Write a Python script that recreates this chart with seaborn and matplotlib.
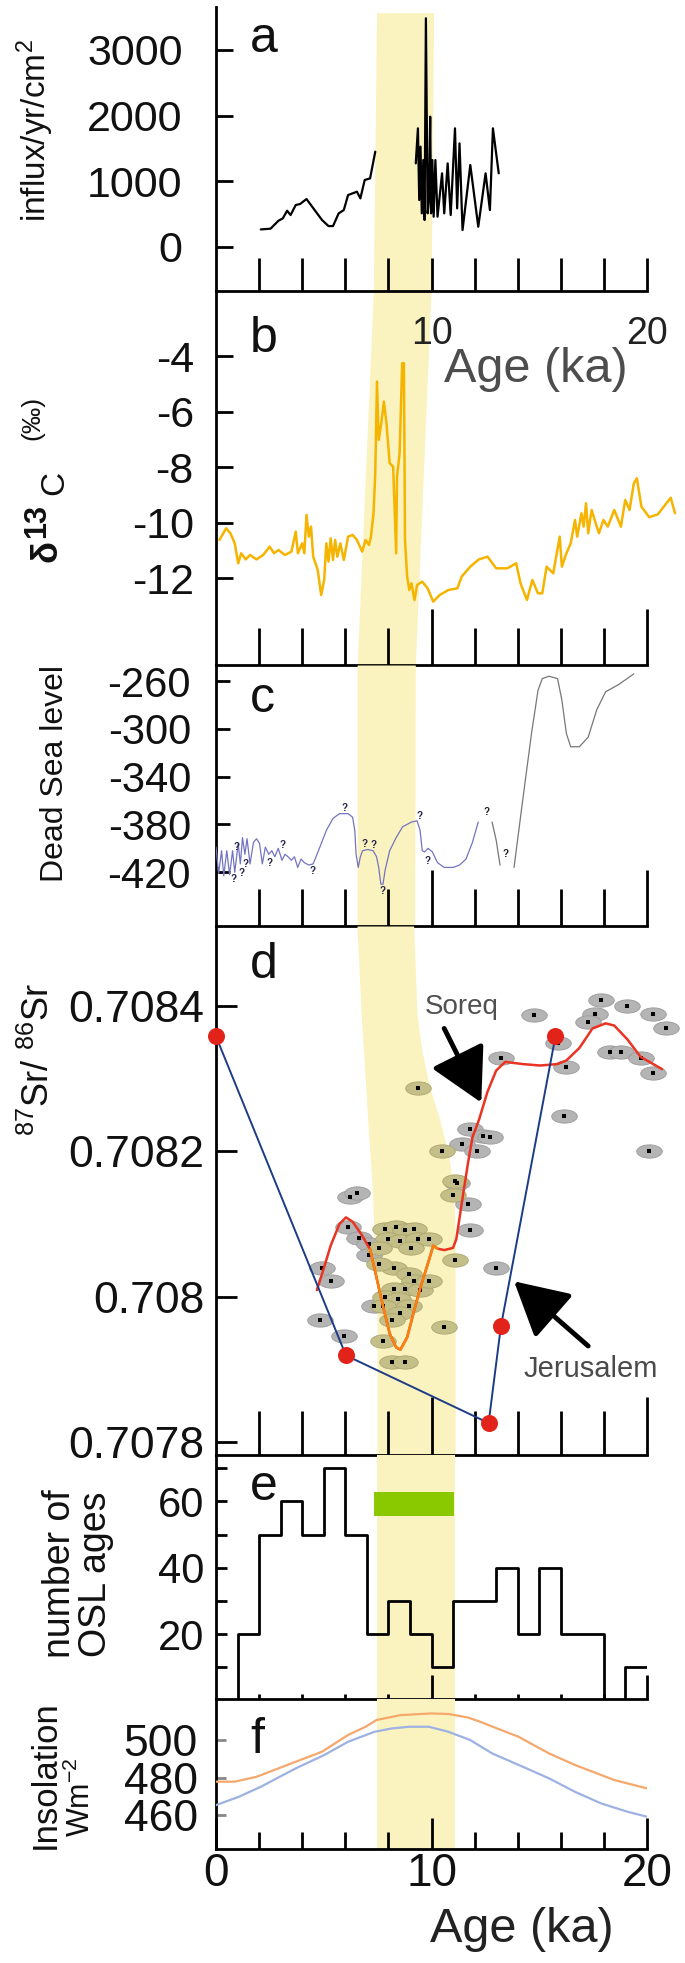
import numpy as np
import pandas as pd
import matplotlib
matplotlib.use("Agg")
import matplotlib.pyplot as plt
import matplotlib.transforms as mtransforms
from matplotlib.path import Path
import seaborn as sns

# ---------------- data ----------------
# panel a: influx
a1_age = [2.08, 2.53, 2.9, 3.1, 3.3, 3.46, 3.7, 3.9, 4.2, 4.92, 5.22, 5.43, 5.69, 5.93, 6.13, 6.54, 6.7, 6.9, 7.15, 7.39]
a1_val = [264, 275, 397, 432, 549, 483, 636, 651, 727, 407, 315, 315, 508, 559, 788, 839, 737, 1017, 1042, 1449]
a2_age = [9.27, 9.37, 9.43, 9.49, 9.55, 9.62, 9.68, 9.74, 9.82, 9.88, 9.94, 9.98, 10.04, 10.10, 10.18, 10.28,
          10.49, 10.59, 10.75, 10.89, 11.09, 11.19, 11.30, 11.44, 11.80, 12.17, 12.51, 12.71, 12.85, 13.12]
a2_val = [1271, 1805, 712, 1526, 509, 1322, 407, 3483, 509, 712, 1983, 509, 1322, 458, 1322, 458,
          1119, 509, 1271, 483, 1805, 585, 1576, 254, 1246, 305, 1119, 559, 1805, 1119]
a_yticks = [0, 1000, 2000, 3000]

# panel b: d13C
b_age = [0.16, 0.47, 0.67, 0.87, 1.03, 1.17, 1.38, 1.58, 1.88, 2.19, 2.49, 2.69, 2.9, 3.2, 3.5, 3.7, 3.8, 4.0,
         4.1, 4.2, 4.31, 4.41, 4.51, 4.72, 4.88, 5.02, 5.12, 5.22, 5.32, 5.43, 5.53, 5.63, 5.77, 5.93, 6.13,
         6.34, 6.54, 6.78, 6.94, 7.1, 7.19, 7.31, 7.39, 7.47, 7.55, 7.67, 7.79, 7.91, 8.06, 8.22, 8.36, 8.4,
         8.52, 8.64, 8.72, 8.77, 8.87, 8.97, 9.07, 9.21, 9.33, 9.57, 9.82, 10.08, 10.38, 10.79, 11.2, 11.4,
         11.8, 12.2, 12.6, 13.0, 13.52, 13.93, 14.13, 14.43, 14.68, 14.94, 15.14, 15.34, 15.65, 15.95, 16.05,
         16.26, 16.46, 16.66, 16.76, 16.96, 17.06, 17.17, 17.27, 17.43, 17.57, 17.77, 17.98, 18.18, 18.48,
         18.79, 18.99, 19.19, 19.39, 19.53, 19.74, 20.1, 20.5, 21.1, 21.3]
b_val = [-10.62, -10.2, -10.38, -10.74, -11.46, -11.1, -11.32, -11.16, -11.32, -11.16, -10.86, -11.1, -10.98,
         -11.16, -11.04, -10.32, -11.1, -10.74, -11.1, -9.72, -10.5, -10.14, -11.22, -11.7, -12.6, -12.06,
         -10.74, -11.4, -10.56, -11.34, -10.62, -11.22, -10.74, -11.34, -10.5, -10.44, -10.62, -11.04, -10.62,
         -10.8, -10.5, -9.66, -8.22, -4.92, -7.02, -6.42, -5.64, -6.42, -7.86, -7.98, -11.1, -8.34, -7.5,
         -4.26, -4.26, -10.62, -11.94, -12.42, -12.18, -12.78, -12.24, -12.12, -12.36, -12.84, -12.6, -12.42,
         -12.36, -11.94, -11.58, -11.32, -11.22, -11.64, -11.64, -11.46, -12.18, -12.78, -12.06, -12.54,
         -12.54, -11.58, -11.82, -10.5, -11.58, -11.1, -10.74, -9.9, -10.5, -9.66, -10.14, -9.3, -10.38,
         -9.54, -9.9, -10.38, -9.9, -10.14, -9.54, -10.14, -9.18, -9.54, -8.58, -8.4, -9.42, -9.8, -9.7,
         -9.1, -9.66]
b_yticks = [-12, -10, -8, -6, -4]

# panel c: Dead Sea level
c1_age = [0, 0.12, 0.26, 0.36, 0.5, 0.63, 0.77, 0.87, 1.03, 1.13, 1.23, 1.34, 1.44, 1.58, 1.74, 1.88, 2.02,
          2.15, 2.29, 2.45, 2.59, 2.73, 2.89, 3.06, 3.2, 3.34, 3.5, 3.64, 3.79, 3.95, 4.1, 4.31, 4.51, 4.82,
          5.12, 5.43, 5.73, 6.13, 6.34, 6.44, 6.5, 6.6, 6.7, 6.8, 7.04, 7.29, 7.45, 7.55, 7.65, 7.75, 7.85,
          8.06, 8.36, 8.66, 9.07, 9.33, 9.47, 9.57, 9.68, 9.84, 10.04, 10.28, 10.59, 11.0, 11.3, 11.6, 11.9,
          12.17]
c1_val = [-399, -421, -402, -423, -402, -422, -402, -420, -396, -413, -391, -405, -392, -413, -395, -392, -396,
          -413, -399, -405, -402, -407, -400, -410, -405, -407, -410, -407, -416, -409, -412, -414, -413, -399,
          -385, -375, -371, -371, -374, -385, -405, -416, -407, -402, -401, -402, -407, -416, -430, -430, -418,
          -402, -391, -382, -378, -377, -385, -402, -403, -400, -403, -412, -416, -416, -414, -409, -395, -378]
c2_age = [12.81, 13.0, 13.18]
c2_val = [-378, -393, -414]
c3_age = [13.83, 14.23, 14.64, 14.94, 15.14, 15.45, 15.85, 16.05, 16.26, 16.46, 16.86, 17.27, 17.67, 18.08,
          18.68, 19.39]
c3_val = [-416, -360, -304, -268, -258, -256, -258, -276, -304, -315, -315, -307, -284, -269, -263, -254]
q_age = [0.97, 0.83, 1.19, 1.38, 2.49, 3.1, 4.47, 5.97, 6.9, 7.31, 7.71, 9.43, 9.84, 12.55, 13.46]
q_val = [-399, -426, -421, -413, -412, -397, -419, -366, -396, -397, -436, -373, -411, -370, -405]
c_yticks = [-420, -380, -340, -300, -260]

# panel d: 87Sr/86Sr
jer_age = [0, 6.03, 12.65, 13.22, 15.75]
jer_val = [0.708358, 0.707919, 0.707826, 0.707959, 0.708358]
soreq_age = [4.68, 4.92, 5.32, 5.73, 6.03, 6.34, 6.74, 7.15, 7.45, 7.75, 8.06, 8.36, 8.56, 8.87, 9.17, 9.47,
             9.88, 10.08, 10.28, 10.59, 11.0, 11.15, 11.3, 11.5, 11.7, 11.9, 12.2, 12.6, 13.0, 13.42, 14.23,
             15.04, 15.85, 16.26, 16.86, 17.47, 18.08, 18.48, 19.09, 19.7, 20.7]
soreq_val = [0.708009, 0.708031, 0.70807, 0.7081, 0.708109, 0.708103, 0.708086, 0.708065, 0.708026, 0.707987,
             0.707949, 0.70793, 0.707927, 0.707944, 0.707978, 0.708011, 0.70805, 0.70807, 0.708066, 0.708064,
             0.708067, 0.708079, 0.708108, 0.708147, 0.708185, 0.708219, 0.708243, 0.708282, 0.708311,
             0.708323, 0.70832, 0.708318, 0.70832, 0.708325, 0.708342, 0.708369, 0.708376, 0.708373,
             0.708354, 0.70833, 0.708313]
soreq_mid_range = [7.15, 10.28]
grey_age = [14.74, 13.22, 17.87, 19.09, 20.3, 17.57, 17.27, 15.85, 18.28, 18.79, 19.7, 16.26, 20.3, 20.9, 16.15,
            20.1, 11.8, 12.4, 12.7, 11.4, 12.1, 11.2, 11.7, 11.8, 13.0, 6.23, 6.54, 6.13, 6.64, 7.1, 7.1, 4.92,
            5.32, 4.82, 5.93, 7.35]
grey_val = [0.708388, 0.708328, 0.708408, 0.7084, 0.708389, 0.708389, 0.708378, 0.708349, 0.708337, 0.708337,
            0.708328, 0.708316, 0.708308, 0.708369, 0.708248, 0.7082, 0.70823, 0.708221, 0.708219, 0.70821,
            0.7082, 0.708156, 0.708127, 0.708091, 0.70804, 0.708137, 0.708142, 0.708096, 0.708081, 0.708072,
            0.708057, 0.70804, 0.708021, 0.707968, 0.707946, 0.707987]
olive_age = [9.37, 10.49, 11.09, 10.99, 11.09, 10.59, 7.85, 8.36, 8.77, 9.17, 7.96, 8.56, 9.37, 9.88, 7.55, 9.07,
             8.26, 8.97, 9.17, 8.77, 8.26, 9.47, 7.85, 8.46, 7.75, 8.97, 8.56, 8.16, 7.75, 8.16, 8.77, 7.55, 9.88]
olive_val = [0.708287, 0.7082, 0.708159, 0.70814, 0.70805, 0.707958, 0.708093, 0.708096, 0.708091, 0.708093,
             0.708079, 0.708077, 0.708079, 0.708079, 0.708067, 0.708067, 0.70804, 0.708031, 0.708021, 0.708011,
             0.708011, 0.708009, 0.708, 0.707997, 0.707987, 0.707987, 0.707978, 0.707968, 0.707939, 0.70791,
             0.70791, 0.708045, 0.708021]
d_yticks = [0.7078, 0.708, 0.7082, 0.7084]
d_yticklabels = ["0.7078", "0.708", "0.7082", "0.7084"]

# panel e: OSL ages histogram (1 ka bins)
osl_bin_edges = list(range(0, 21))
osl_counts = [0, 20, 50, 60, 50, 70, 50, 20, 30, 20, 10, 30, 30, 40, 20, 40, 20, 20, 0, 10]
green_bar = {"start": 7.35, "end": 11.05, "low": 55.5, "high": 63.0}
e_yticks = [10, 20, 30, 40, 50, 60, 70]
e_yticklabels = ["", "20", "", "40", "", "60", ""]

# panel f: insolation
f_or_age = [0, 0.87, 1.88, 3.1, 4.92, 6.13, 6.94, 7.45, 8.56, 9.98, 10.79, 11.7, 12.2, 13.2, 14.03, 15.45, 16.66, 18.48, 20]
f_or_val = [477.8, 477.8, 480.4, 485.8, 493.8, 502.7, 507.1, 510.7, 513.3, 514.2, 513.9, 512, 510, 505.5, 501.8, 492.9, 486.7, 478.7, 474.2]
f_bl_age = [0, 1.07, 2.08, 3.7, 5.02, 6.13, 7.35, 8.16, 8.97, 9.88, 10.79, 11.8, 12.81, 14.23, 15.45, 16.66, 17.87, 19.09, 20]
f_bl_val = [465.3, 469.8, 475.1, 484.9, 492, 499.1, 504.4, 506.2, 507.1, 507.1, 504.4, 500, 492.9, 485.8, 479.6, 472.4, 466.2, 461.8, 459.1]
f_yticks = [460, 480, 500]

# shared x axis
x_minor = [2, 4, 6, 8, 12, 14, 16, 18]

# highlighted band (age edges, per panel, at axes-fraction heights)
band = {
    "a": ([0, 0.98], [7.3, 7.45], [9.98, 10.1]),
    "b": ([0, 1], [6.55, 7.3], [9.25, 9.98]),
    "c": ([0, 1], [6.55, 6.55], [9.22, 9.25]),
    "d": ([0, 0.304, 0.37, 0.436, 0.502, 0.568, 0.634, 0.7, 0.766, 0.832, 1.0],
          [7.47, 7.47, 7.39, 7.32, 7.25, 7.15, 7.04, 6.94, 6.84, 6.74, 6.54],
          [11.1, 11.1, 11.09, 11.09, 11.03, 10.79, 10.38, 9.88, 9.55, 9.33, 9.17]),
    "e": ([0, 1], [7.47, 7.47], [11.1, 11.1]),
    "f": ([0, 1], [7.47, 7.47], [11.1, 11.1]),
}

# ---------------- style ----------------
sns.set_theme(style="white")
plt.rcParams["font.family"] = ["Liberation Sans", "DejaVu Sans"]
plt.rcParams["mathtext.fontset"] = "custom"
plt.rcParams["mathtext.rm"] = "Liberation Sans"
plt.rcParams["mathtext.it"] = "Liberation Sans:italic"
plt.rcParams["mathtext.bf"] = "Liberation Sans:bold"
plt.rcParams["axes.linewidth"] = 2.0
plt.rcParams["axes.edgecolor"] = "black"

W, H = 685, 1963
fig = plt.figure(figsize=(W / 100, H / 100), dpi=100)
fig.patch.set_facecolor("white")
X0, X1 = 216, 647
BAND_COLOR = "#fbf3bf"


def add_ax(top, bottom):
    ax = fig.add_axes([X0 / W, 1 - bottom / H, (X1 - X0) / W, (bottom - top) / H])
    ax.set_facecolor("none")
    for s in ["top", "right"]:
        ax.spines[s].set_visible(False)
    for s in ["left", "bottom"]:
        ax.spines[s].set_linewidth(2.0)
        ax.spines[s].set_color("black")
    return ax


def draw_band(ax, key):
    yf, lft, rgt = band[key]
    tr = mtransforms.blended_transform_factory(ax.transData, ax.transAxes)
    ax.fill_betweenx(yf, lft, rgt, transform=tr, color=BAND_COLOR, lw=0, zorder=0)


def xticks(ax, major, maj_len, min_len, labels=None, pad=4, size=26, color="#222"):
    ax.set_xlim(0, 20)
    ax.set_xticks(major)
    ax.set_xticks(x_minor, minor=True)
    if labels is None:
        ax.set_xticklabels([""] * len(major))
    else:
        ax.set_xticklabels(labels)
    ax.tick_params(axis="x", which="major", direction="in", length=maj_len, width=2, bottom=True,
                   pad=pad, labelsize=size, labelcolor=color, color="black")
    ax.tick_params(axis="x", which="minor", direction="in", length=min_len, width=2, bottom=True,
                   color="black")


def yticks(ax, ticks, labels, length, pad, size=31, color="black"):
    ax.set_yticks(ticks)
    ax.set_yticklabels(labels)
    ax.tick_params(axis="y", which="major", direction="in", length=length, width=2, left=True,
                   pad=pad, labelsize=size, color=color, labelcolor="#111")


def ftext(x, y, s, **kw):
    fig.text(x / W, 1 - y / H, s, **kw)


# ---------------- panel a ----------------
ax_a = add_ax(7, 291)
ax_a.set_zorder(5)
draw_band(ax_a, "a")
sns.lineplot(x=a1_age, y=a1_val, sort=False, estimator=None, color="black", lw=1.6, ax=ax_a, zorder=3)
sns.lineplot(x=a2_age, y=a2_val, sort=False, estimator=None, color="black", lw=1.6, ax=ax_a, zorder=3)
xticks(ax_a, [10, 20], 24, 24, labels=["10", "20"], pad=18, size=27, color="#222")
yticks(ax_a, a_yticks, [str(v) for v in a_yticks], 12, 24)
ax_a.set_ylim(-675, 3655)
ax_a.set_xlim(0, 20)

# ---------------- panel b ----------------
ax_b = add_ax(291, 665)
draw_band(ax_b, "b")
sns.lineplot(x=b_age, y=b_val, sort=False, estimator=None, color="#f5b400", lw=1.8, ax=ax_b,
             zorder=3, clip_on=False)
xticks(ax_b, [10, 20], 40, 27)
yticks(ax_b, b_yticks, [str(v) for v in b_yticks], 12, 16)
ax_b.set_ylim(-15.12, -1.66)
ax_b.set_xlim(0, 20)

# ---------------- panel c ----------------
ax_c = add_ax(665, 926)
draw_band(ax_c, "c")
sns.lineplot(x=c1_age, y=c1_val, sort=False, estimator=None, color="#7474c0", lw=0.9, ax=ax_c, zorder=3)
sns.lineplot(x=c2_age, y=c2_val, sort=False, estimator=None, color="#777777", lw=0.9, ax=ax_c, zorder=3)
sns.lineplot(x=c3_age, y=c3_val, sort=False, estimator=None, color="#777777", lw=0.9, ax=ax_c, zorder=3)
for qa, qv in zip(q_age, q_val):
    ax_c.text(qa, qv, "?", fontsize=7, fontweight="bold", ha="center", va="center",
              color="#22224a" if qa < 12.3 else "#222222", zorder=4)
xticks(ax_c, [10, 20], 40, 27)
yticks(ax_c, c_yticks, [str(v) for v in c_yticks], 10, 18, size=30)
ax_c.set_ylim(-465, -246.6)
ax_c.set_xlim(0, 20)

# ---------------- panel d ----------------
ax_d = add_ax(926, 1455)
draw_band(ax_d, "d")
t = np.linspace(0, 2 * np.pi, 40)
ellipse = Path(np.column_stack([np.cos(t), 0.52 * np.sin(t)]), closed=True)
sns.scatterplot(x=grey_age, y=grey_val, marker=ellipse, s=340, color="#b4b4b4", edgecolor="#9a9a9a",
                linewidth=0.6, ax=ax_d, zorder=2, clip_on=False, legend=False)
sns.scatterplot(x=olive_age, y=olive_val, marker=ellipse, s=340, color="#c4bf88", edgecolor="#aca66e",
                linewidth=0.6, ax=ax_d, zorder=2, clip_on=False, legend=False)
sns.scatterplot(x=grey_age + olive_age, y=grey_val + olive_val, marker="s", s=7, color="black",
                linewidth=0, ax=ax_d, zorder=2.5, clip_on=False, legend=False)
soreq = pd.DataFrame({"age": soreq_age, "val": soreq_val})
sns.lineplot(data=soreq, x="age", y="val", sort=False, estimator=None, color="#ea3323", lw=1.8,
             ax=ax_d, zorder=4, clip_on=False)
mid = soreq[(soreq.age >= soreq_mid_range[0]) & (soreq.age <= soreq_mid_range[1])]
sns.lineplot(data=mid, x="age", y="val", sort=False, estimator=None, color="#f7820f", lw=1.8,
             ax=ax_d, zorder=4.1)
sns.lineplot(x=jer_age, y=jer_val, sort=False, estimator=None, color="#1d3c86", lw=1.4, ax=ax_d,
             zorder=5, clip_on=False)
sns.scatterplot(x=jer_age, y=jer_val, s=150, color="#e2231a", linewidth=0, ax=ax_d, zorder=6,
                clip_on=False, legend=False)
ax_d.annotate("", xy=(12.31, 0.708267), xytext=(10.59, 0.708369),
              arrowprops=dict(arrowstyle="-|>,head_length=1.1,head_width=0.6", color="black", lw=3.5,
                              mutation_scale=30, shrinkA=0, shrinkB=0), zorder=7)
ax_d.annotate("", xy=(13.83, 0.708021), xytext=(17.27, 0.707932),
              arrowprops=dict(arrowstyle="-|>,head_length=1.1,head_width=0.6", color="black", lw=3.5,
                              mutation_scale=30, shrinkA=0, shrinkB=0), zorder=7)
ax_d.text(11.4, 0.708398, "Soreq", fontsize=20, color="#505050", ha="center", va="center", zorder=7)
ax_d.text(17.37, 0.70790, "Jerusalem", fontsize=21, color="#4a4a4a", ha="center", va="center", zorder=7)
xticks(ax_d, [10, 20], 42, 32)
yticks(ax_d, d_yticks, d_yticklabels, 15, 8.5, size=32)
ax_d.set_ylim(0.707782, 0.70851)
ax_d.set_xlim(0, 20)

# ---------------- panel e ----------------
ax_e = add_ax(1455, 1699)
draw_band(ax_e, "e")
centers = [(osl_bin_edges[i] + osl_bin_edges[i + 1]) / 2 for i in range(len(osl_counts))]
sns.histplot(x=centers, weights=osl_counts, bins=osl_bin_edges, element="step", fill=False,
             color="black", linewidth=2.0, ax=ax_e, zorder=3)
ax_e.barh(y=(green_bar["low"] + green_bar["high"]) / 2, width=green_bar["end"] - green_bar["start"],
          left=green_bar["start"], height=green_bar["high"] - green_bar["low"], color="#8ac800",
          lw=0, zorder=2)
ax_e.set_ylabel("")
xticks(ax_e, [10, 20], 17, 3.5)
yticks(ax_e, e_yticks, e_yticklabels, 8, 8.5, size=30)
ax_e.set_ylim(0.5, 74)
ax_e.set_xlim(0, 20)

# ---------------- panel f ----------------
ax_f = add_ax(1699, 1849)
draw_band(ax_f, "f")
sns.lineplot(x=f_or_age, y=f_or_val, sort=False, estimator=None, color="#f5a86c", lw=1.6, ax=ax_f, zorder=3)
sns.lineplot(x=f_bl_age, y=f_bl_val, sort=False, estimator=None, color="#9db2e2", lw=1.6, ax=ax_f, zorder=3)
xticks(ax_f, [0, 10, 20], 22, 12, labels=["0", "10", "20"], pad=2, size=33, color="#111")
yticks(ax_f, f_yticks, [str(v) for v in f_yticks], 7, 13, size=32, color="#888888")
ax_f.set_ylim(441.9, 521.9)
ax_f.set_xlim(0, 20)

for ax in [ax_a, ax_b, ax_c, ax_d, ax_e, ax_f]:
    ax.set_xlabel("")
    ax.set_ylabel("")

# ---------------- panel letters ----------------
for s, y in [("a", 52), ("b", 352), ("c", 712), ("d", 978), ("e", 1500), ("f", 1753)]:
    ftext(250, y, s, fontsize=36, ha="left", va="baseline", color="#111")

# ---------------- axis titles ----------------
ftext(35, 131, "influx/yr/cm$^{2}$", rotation=90, fontsize=24, ha="center", va="center", color="#111")
ftext(47, 551, "δ", rotation=90, fontsize=26, fontweight="bold", ha="center", va="center", color="#111")
ftext(37, 521, "13", rotation=90, fontsize=22, fontweight="bold", ha="center", va="center", color="#111")
ftext(55, 483, "C", rotation=90, fontsize=24, ha="center", va="center", color="#111")
ftext(32, 418, "(‰)", rotation=90, fontsize=19, ha="center", va="center", color="#111")
ftext(55, 774, "Dead Sea level", rotation=90, fontsize=23, ha="center", va="center", color="#111")
ftext(39, 1060, "$^{87}$Sr/ $^{86}$Sr", rotation=90, fontsize=26, ha="center", va="center", color="#111")
ftext(78, 1574, "number of\nOSL ages", rotation=90, fontsize=27, ha="center", va="center",
      linespacing=1.0, color="#111")
ftext(45, 1775, "Insolation", rotation=90, fontsize=25, ha="center", va="center", color="#111")
ftext(81, 1797, "Wm$^{-2}$", rotation=90, fontsize=22, ha="center", va="center", color="#111")
ftext(536, 370, "Age (ka)", fontsize=35, ha="center", va="center", color="#4d4d4d")
ftext(522, 1930, "Age (ka)", fontsize=35, ha="center", va="center", color="#222")

fig.savefig("out.png", dpi=100, facecolor="white")
